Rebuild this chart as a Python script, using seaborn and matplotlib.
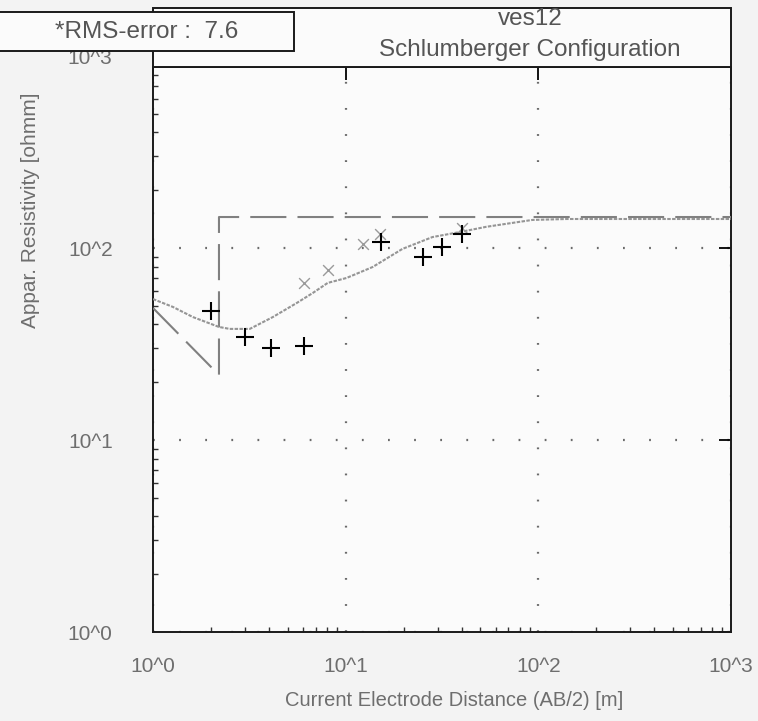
import numpy as np
import pandas as pd
import matplotlib
matplotlib.use("Agg")
import matplotlib.pyplot as plt
import seaborn as sns
from matplotlib.patches import Rectangle
from matplotlib.ticker import FixedLocator, LogLocator, NullFormatter

# ---------------- data ----------------
obs_ab2 = [2.0, 3.0, 4.1, 6.1, 15.2, 25.1, 31.8, 40.4]
obs_rho = [47.0, 34.4, 30.0, 30.9, 107.0, 89.8, 101.0, 118.0]

masked_ab2 = [6.1, 8.1, 12.3, 15.0, 40.4]
masked_rho = [65.8, 76.8, 105.0, 118.0, 127.0]

calc_ab2 = [1.0, 1.27, 1.61, 2.2, 2.5, 3.18, 4.19, 5.57, 6.75, 8.07, 10.1,
            13.8, 19.7, 28.2, 39.0, 53.8, 93.0, 140.0, 1000.0]
calc_rho = [54.2, 49.3, 43.7, 38.8, 37.9, 37.9, 43.7, 51.7, 58.3, 65.8, 69.8,
            79.6, 98.9, 114.0, 121.0, 129.0, 140.0, 141.6, 141.6]

model_ab2 = [1.0, 2.2, 2.2, 1000.0]
model_rho = [48.7, 21.8, 145.0, 145.0]

x_ticks = [1, 10, 100, 1000]
x_tick_labels = ["10^0", "10^1", "10^2", "10^3"]
y_ticks = [1, 10, 100]
y_tick_labels = ["10^0", "10^1", "10^2"]
y_top_label = "10^3"

title_line1 = "ves12"
title_line2 = "Schlumberger Configuration"
rms_text = "*RMS-error :  7.6"
x_label = "Current Electrode Distance (AB/2) [m]"
y_label = "Appar. Resistivity [ohmm]"

# ---------------- style ----------------
sns.set_style("white")
plt.rcParams["font.family"] = ["Liberation Sans", "DejaVu Sans"]
plt.rcParams["lines.scale_dashes"] = False

W, H = 758, 721
fig = plt.figure(figsize=(W / 100, H / 100), dpi=100, facecolor="#f3f3f3")

ax_l, ax_r, ax_b, ax_t = 153, 731, 632, 67
ax = fig.add_axes([ax_l / W, 1 - ax_b / H, (ax_r - ax_l) / W, (ax_b - ax_t) / H])
ax.set_facecolor("#fbfbfb")

decade_px = 192.0
ax.set_xscale("log")
ax.set_yscale("log")
ax.set_xlim(1, 1000)
ax.set_ylim(1, 10 ** ((ax_b - ax_t) / decade_px))

calc_df = pd.DataFrame({"ab2": calc_ab2, "rho": calc_rho})
model_df = pd.DataFrame({"ab2": model_ab2, "rho": model_rho})
obs_df = pd.DataFrame({"ab2": obs_ab2, "rho": obs_rho})
masked_df = pd.DataFrame({"ab2": masked_ab2, "rho": masked_rho})

sns.lineplot(data=model_df, x="ab2", y="rho", sort=False, estimator=None,
             color="#808080", lw=1.5, linestyle=(0, (26, 8)), ax=ax, zorder=3)
sns.lineplot(data=calc_df, x="ab2", y="rho", sort=False, estimator=None,
             color="#959595", lw=1.5, linestyle=(0, (2.5, 1)), ax=ax, zorder=3)
sns.scatterplot(data=masked_df, x="ab2", y="rho", marker="x", s=60,
                color="#9a9a9a", linewidth=1.0, ax=ax, zorder=4)
sns.scatterplot(data=obs_df, x="ab2", y="rho", marker="+", s=160,
                color="black", linewidth=1.5, ax=ax, zorder=5)

ax.set_xlabel("")
ax.set_ylabel("")

# ticks
ax.xaxis.set_major_locator(FixedLocator(x_ticks))
ax.set_xticklabels(x_tick_labels)
ax.yaxis.set_major_locator(FixedLocator(y_ticks))
ax.set_yticklabels(y_tick_labels)
ax.xaxis.set_minor_locator(LogLocator(base=10, subs=np.arange(2, 10)))
ax.yaxis.set_minor_locator(LogLocator(base=10, subs=np.arange(2, 10)))
ax.xaxis.set_minor_formatter(NullFormatter())
ax.yaxis.set_minor_formatter(NullFormatter())

ax.tick_params(which="major", direction="in", length=9, width=1.3,
               top=True, right=True, color="black", labelcolor="#6e6e6e",
               labelsize=15)
ax.tick_params(axis="y", which="major", pad=29)
ax.tick_params(axis="x", which="major", pad=18)
ax.tick_params(which="minor", direction="in", length=3.5, width=1.0,
               top=False, right=False, left=True, bottom=True, color="#333333")

ax.grid(which="major", color="#6a6a6a", linestyle=(0, (1.3, 17.5)), lw=1.6)
ax.set_axisbelow(True)

for sp in ax.spines.values():
    sp.set_color("#1a1a1a")
    sp.set_linewidth(1.4)
    sp.set_visible(True)

# axis labels
fig.text(454 / W, 1 - 700 / H, x_label, ha="center", va="center",
         fontsize=14.5, color="#6e6e6e")
fig.text(30 / W, 1 - 210 / H, y_label, ha="center", va="center",
         rotation=90, fontsize=15, color="#6e6e6e")
fig.text(112 / W, 1 - 59 / H, y_top_label, ha="right", va="center",
         fontsize=15, color="#6e6e6e", zorder=2)

# title box
fig.patches.append(Rectangle((ax_l / W, 1 - 67 / H), (ax_r - ax_l) / W, 59 / H,
                             transform=fig.transFigure, facecolor="#fbfbfb",
                             edgecolor="#1a1a1a", lw=1.4, zorder=6))
fig.text(530 / W, 1 - 19 / H, title_line1, ha="center", va="center",
         fontsize=17.5, color="#555555", zorder=7)
fig.text(530 / W, 1 - 50 / H, title_line2, ha="center", va="center",
         fontsize=17.5, color="#555555", zorder=7)

# RMS box
fig.patches.append(Rectangle((-3 / W, 1 - 51 / H), 297 / W, 39 / H,
                             transform=fig.transFigure, facecolor="#fbfbfb",
                             edgecolor="#1a1a1a", lw=1.4, zorder=8))
fig.text(55 / W, 1 - 32 / H, rms_text, ha="left", va="center",
         fontsize=17.5, color="#555555", zorder=9)

fig.savefig("out.png", dpi=100, facecolor=fig.get_facecolor())
